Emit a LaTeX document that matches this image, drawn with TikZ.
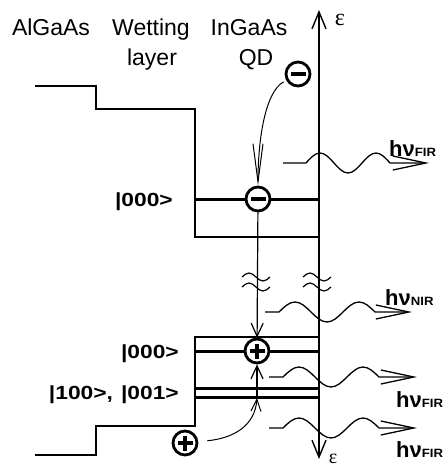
\documentclass[tikz,border=0pt]{standalone}
\usepackage{fontspec}
\setmainfont{Liberation Sans}
\newfontfamily\lblfont[FakeStretch=1.2]{Liberation Sans}
\newfontfamily\subfont[FakeStretch=1.1]{Liberation Sans}
\newfontfamily\epsfont{Liberation Serif}
\usetikzlibrary{arrows.meta}
\newcommand{\photonlbl}[1]{{\bfseries\fontsize{22}{22}\selectfont hν}{\subfont\bfseries\fontsize{12}{12}\selectfont #1}}
\begin{document}
\begin{tikzpicture}[x=1pt,y=-1pt,
  bandline/.style={line width=1.3pt},
  levelline/.style={line width=3pt},
  carrier/.style={circle,draw,line width=2.8pt,minimum size=24pt,inner sep=0pt,fill=white},
  electron/.style={carrier,path picture={\draw[line width=3.2pt] ([xshift=-7.5pt]path picture bounding box.center) -- ([xshift=7.5pt]path picture bounding box.center);}},
  hole/.style={carrier,path picture={\draw[line width=3.2pt] ([xshift=-7.5pt]path picture bounding box.center) -- ([xshift=7.5pt]path picture bounding box.center) ([yshift=-7.5pt]path picture bounding box.center) -- ([yshift=7.5pt]path picture bounding box.center);}},
  header/.style={font=\fontsize{23}{26}\selectfont, inner sep=0pt, anchor=base},
  statelbl/.style={font=\lblfont\bfseries\fontsize{19}{21}\selectfont, inner sep=0pt, anchor=base east},
  photonlabel/.style={inner sep=0pt, anchor=base west},
  photon/.style={line width=1.3pt, -{Straight Barb[length=33pt,width=14pt]}},
  capture/.style={line width=1pt, -{Straight Barb[length=38pt,width=10pt]}},
  relax/.style={line width=1.2pt, -{Straight Barb[length=13pt,width=12pt]}},
  axisline/.style={line width=1.4pt, {Straight Barb[length=17pt,width=14pt]}-{Straight Barb[length=17pt,width=14pt]}},
  breakmark/.style={line width=1.2pt}
]
\useasboundingbox (0,0) rectangle (447,467);

% headers
\node[header] (hAl) at (51,35) {AlGaAs};
\node[header] (hWet) at (151,35) {Wetting};
\node[header] (hLay) at (152,65) {layer};
\node[header] (hIn) at (249,35) {InGaAs};
\node[header] (hQD) at (256,65) {QD};

% band edges
\draw[bandline] (35,86) -- (96,86) -- (96,109) -- (195,109) -- (195,237) -- (319,237);
\draw[bandline] (35,455) -- (96,455) -- (96,426) -- (195,426) -- (195,337) -- (319,337);

% levels
\draw[levelline] (195,199) -- (319,199);
\draw[levelline] (195,351) -- (319,351);
\draw[levelline] (195,388) -- (319,388);
\draw[levelline] (195,397) -- (319,397);

% axis
\coordinate (axtop) at (319,10);
\coordinate (axbot) at (319,459);
\draw[axisline] (axbot) -- (axtop);
\node[font=\epsfont\fontsize{24}{24}\selectfont, inner sep=0pt] (epsT) at (340,20) {ε};
\node[font=\epsfont\fontsize{20}{20}\selectfont, inner sep=0pt] (epsB) at (333,459) {ε};

% state labels
\node[statelbl] (s1) at (173,206) {|000>};
\node[statelbl] (s2) at (179,358) {|000>};
\node[statelbl] (s3) at (179,399) {|100>,\hspace{8pt}|001>};

% carriers
\node[electron] (e1) at (298,74) {};
\node[electron] (e0) at (258,199) {};
\node[hole] (h0) at (257,351) {};
\node[hole] (h1) at (185,443) {};

% transitions
\draw[capture, shorten <=3pt] (e1) .. controls (265,92) and (258,140) .. (e0.north);
\draw[relax] (e0) -- (h0);
\coordinate (hup) at (257,398);
\draw[relax] (hup) -- (h0);
\draw[line width=1pt, shorten <=9pt, -{Straight Barb[length=12pt,width=10pt]}] (h1) .. controls (235,438) and (255,425) .. (hup);

% break marks
\foreach \x in {256,317} {
  \foreach \y in {277,287} {
    \draw[breakmark] (\x-14,\y) sin (\x-7,\y-4) cos (\x,\y) sin (\x+7,\y+4) cos (\x+14,\y);
  }
}

% photons
\coordinate (w1s) at (283,163); \coordinate (w1e) at (429,163);
\coordinate (w2s) at (265,312); \coordinate (w2e) at (412,312);
\coordinate (w3s) at (269,377); \coordinate (w3e) at (417,377);
\coordinate (w4s) at (269,428); \coordinate (w4e) at (417,428);
\draw[photon] (w1s) -- ++(23,0) sin ++(14,-10) cos ++(14,10) sin ++(14,10) cos ++(14,-10) sin ++(14,-10) cos ++(14,10) -- (w1e);
\draw[photon] (w2s) -- ++(14,0) sin ++(16,-10) cos ++(16,10) sin ++(16,10) cos ++(16,-10) sin ++(16,-10) cos ++(16,10) -- (w2e);
\draw[photon] (w3s) -- ++(14,0) sin ++(16,-10) cos ++(16,10) sin ++(16,10) cos ++(16,-10) sin ++(16,-10) cos ++(16,10) -- (w3e);
\draw[photon] (w4s) -- ++(14,0) sin ++(16,-10) cos ++(16,10) sin ++(16,10) cos ++(16,-10) sin ++(16,-10) cos ++(16,10) -- (w4e);

\node[photonlabel] (p1) at (389,156) {\photonlbl{FIR}};
\node[photonlabel] (p2) at (385,305) {\photonlbl{NIR}};
\node[photonlabel] (p3) at (396,407) {\photonlbl{FIR}};
\node[photonlabel] (p4) at (396,457) {\photonlbl{FIR}};
\end{tikzpicture}
\end{document}
